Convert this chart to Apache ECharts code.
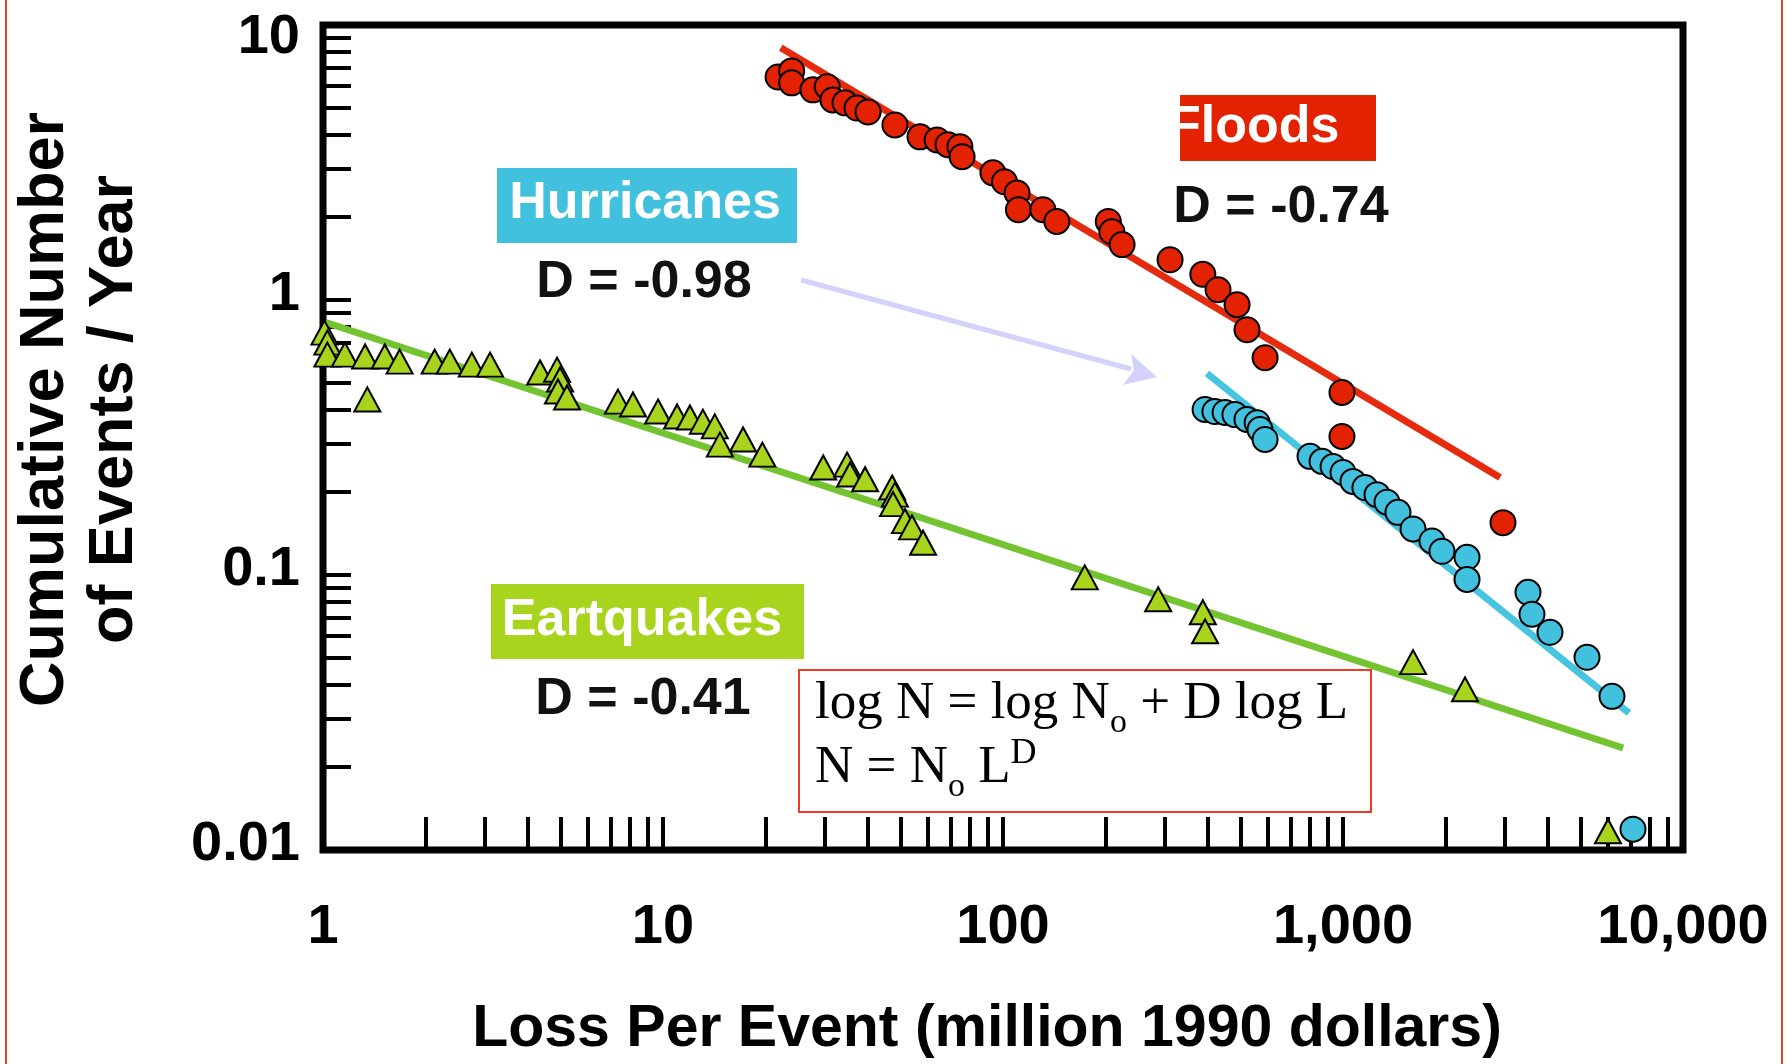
<!DOCTYPE html>
<html>
<head>
<meta charset="utf-8">
<script src="https://cdn.jsdelivr.net/npm/echarts@6/dist/echarts.min.js"></script>
<style>
  html, body { margin: 0; padding: 0; background: #ffffff; }
  #chart { width: 1792px; height: 1064px; }
</style>
</head>
<body>
<div id="chart"></div>
<script>
// ---------- data ----------
const floodsLoss = [21.8,23.9,23.9,27.6,30.4,31.6,34.3,37.2,40.1,48.1,57.0,64.0,68.9,74.7,75.8,93.4,101,110,111,131,144,204,209,224,310,387,429,488,522,590,993,993,2955];
const floodsRate = [6.47,6.81,6.16,5.81,5.96,5.34,5.21,4.99,4.83,4.33,3.92,3.82,3.67,3.61,3.32,2.90,2.69,2.45,2.13,2.13,1.93,1.93,1.77,1.59,1.40,1.24,1.09,0.962,0.780,0.617,0.461,0.319,0.155];

const hurrLoss = [393,420,450,481,522,559,570,590,800,868,935,1000,1070,1160,1259,1347,1451,1607,1827,1955,2316,2316,3500,3596,4062,5220,6182,7127];
const hurrRate = [0.400,0.393,0.390,0.383,0.368,0.358,0.338,0.311,0.270,0.259,0.248,0.236,0.219,0.208,0.196,0.184,0.169,0.147,0.133,0.122,0.116,0.0964,0.0865,0.0720,0.0619,0.0502,0.0362,0.0119];

const quakeLoss = [1.01,1.03,1.03,1.16,1.33,1.52,1.68,2.13,2.36,2.74,3.10,1.35,4.35,4.88,4.98,4.91,5.22,7.37,8.16,9.67,11.0,12.0,13.1,14.2,14.7,17.2,19.6,29.6,34.8,35.5,39.3,47.2,48.1,47.5,51.5,54.0,58.2,174,286,387,393,1607,2285,6017];
const quakeRate = [0.761,0.700,0.633,0.633,0.623,0.623,0.597,0.597,0.597,0.582,0.582,0.435,0.545,0.558,0.514,0.465,0.442,0.427,0.417,0.393,0.377,0.374,0.361,0.347,0.298,0.311,0.274,0.246,0.252,0.232,0.223,0.208,0.196,0.181,0.157,0.149,0.131,0.098,0.0816,0.0732,0.0624,0.0482,0.0384,0.0117];

// fitted power-law lines (end points)
const floodsFitLoss = [22.2, 2897];
const floodsFitRate = [8.26, 0.226];
const hurrFitLoss = [398, 6937];
const hurrFitRate = [0.541, 0.0315];
const quakeFitLoss = [1.02, 6667];
const quakeFitRate = [0.828, 0.0235];

// tick labels
const xLabelValues = [1, 10, 100, 1000, 10000];
const xTickLabels = ['1', '10', '100', '1,000', '10,000'];
const yLabelValues = [0.01, 0.1, 1, 10];
const yTickLabels = ['0.01', '0.1', '1', '10'];
const minorSteps = [1, 2, 3, 4, 5, 6, 7, 8, 9];
const xDecades = [1, 10, 100, 1000];
const yDecades = [0.01, 0.1, 1];

const seriesNames = ['Floods', 'Hurricanes', 'Eartquakes'];
const slopeTexts = ['D = -0.74', 'D = -0.98', 'D = -0.41'];

// ---------- helpers ----------
function zip(a, b) { return a.map((v, i) => [v, b[i]]); }
function buildTicks(decades, top) {
  const t = [];
  decades.forEach(d => minorSteps.forEach(m => t.push(+(d * m).toPrecision(6))));
  t.push(top);
  return t;
}
function findLabel(v, values, labels) {
  const i = values.findIndex(c => Math.abs(Math.log10(v) - Math.log10(c)) < 0.01);
  return i >= 0 ? labels[i] : '';
}

const RED = '#e22200', CYAN = '#41c1dd', GREEN = '#a8d41e';
const SANS = '"Liberation Sans", Arial, Helvetica, sans-serif';
const SERIF = '"Liberation Serif", "Times New Roman", serif';

const chart = echarts.init(document.getElementById('chart'), null, { renderer: 'canvas' });

const labelFont = { fontFamily: SANS, fontSize: 56, fontWeight: 'bold', color: '#000' };

const option = {
  backgroundColor: '#ffffff',
  animation: false,
  grid: {
    left: 323, top: 25, width: 1360, height: 826,
    show: true, borderColor: '#000', borderWidth: 7, backgroundColor: 'transparent'
  },
  xAxis: {
    type: 'log', logBase: 10, min: 1, max: 10000,
    name: 'Loss Per Event (million 1990 dollars)',
    nameLocation: 'middle', nameGap: 150,
    nameTextStyle: { fontFamily: SANS, fontSize: 59, fontWeight: 'bold', color: '#000', padding: [0, 32, 0, 0] },
    axisLine: { show: false },
    splitLine: { show: false },
    axisTick: { show: true, inside: true, length: 33, customValues: buildTicks(xDecades, 10000),
      lineStyle: { color: '#000', width: 4 } },
    axisLabel: Object.assign({ margin: 50, customValues: xLabelValues,
      formatter: v => findLabel(v, xLabelValues, xTickLabels) }, labelFont)
  },
  yAxis: {
    type: 'log', logBase: 10, min: 0.01, max: 10,
    name: 'Cumulative Number\nof Events / Year',
    nameLocation: 'middle', nameGap: 174, nameRotate: 90,
    nameTextStyle: { fontFamily: SANS, fontSize: 63, fontWeight: 'bold', color: '#000', lineHeight: 69, padding: [0, 0, 0, 56] },
    axisLine: { show: false },
    splitLine: { show: false },
    axisTick: { show: true, inside: true, length: 28, customValues: buildTicks(yDecades, 10),
      lineStyle: { color: '#000', width: 4 } },
    axisLabel: Object.assign({ margin: 23, customValues: yLabelValues,
      formatter: v => {
        const s = findLabel(v, yLabelValues, yTickLabels);
        return s === '10' ? '{t|' + s + '}' : '{n|' + s + '}';
      },
      rich: {
        t: Object.assign({ padding: [26, 0, 0, 0] }, labelFont),
        n: Object.assign({ padding: [0, 0, 10, 0] }, labelFont)
      } }, labelFont)
  },
  series: [
    { name: seriesNames[2] + ' fit', type: 'line', data: zip(quakeFitLoss, quakeFitRate), showSymbol: false, silent: true,
      lineStyle: { color: '#74c330', width: 7 }, z: 2 },
    { name: seriesNames[1] + ' fit', type: 'line', data: zip(hurrFitLoss, hurrFitRate), showSymbol: false, silent: true,
      lineStyle: { color: '#46c4e0', width: 7 }, z: 2 },
    { name: seriesNames[0] + ' fit', type: 'line', data: zip(floodsFitLoss, floodsFitRate), showSymbol: false, silent: true,
      lineStyle: { color: '#e52a0e', width: 7 }, z: 2 },
    { name: seriesNames[2], type: 'scatter', data: zip(quakeLoss, quakeRate), symbol: 'triangle', symbolSize: [26, 24], clip: false,
      itemStyle: { color: GREEN, borderColor: '#000', borderWidth: 2, opacity: 1 }, z: 3 },
    { name: seriesNames[1], type: 'scatter', data: zip(hurrLoss, hurrRate), symbol: 'circle', symbolSize: 25, clip: false,
      itemStyle: { color: CYAN, borderColor: '#000', borderWidth: 2, opacity: 1 }, z: 4 },
    { name: seriesNames[0], type: 'scatter', data: zip(floodsLoss, floodsRate), symbol: 'circle', symbolSize: 25, clip: false,
      itemStyle: { color: RED, borderColor: '#000', borderWidth: 2, opacity: 1 }, z: 5 }
  ],
  graphic: [
    // thin red outer border (left and right)
    { type: 'line', shape: { x1: 6, y1: 0, x2: 6, y2: 1064 }, style: { stroke: '#e8412c', lineWidth: 2 }, z: 100 },
    { type: 'line', shape: { x1: 1782, y1: 0, x2: 1782, y2: 1064 }, style: { stroke: '#e8412c', lineWidth: 2 }, z: 100 },

    // Floods label
    { type: 'rect', shape: { x: 1180, y: 95, width: 196, height: 66 }, style: { fill: RED }, z: 100 },
    { type: 'text', x: 1169, y: 128, z: 101,
      style: { text: seriesNames[0], fill: '#fff', fontFamily: SANS, fontSize: 52, fontWeight: 'bold',
        align: 'left', textAlign: 'left', verticalAlign: 'middle', textVerticalAlign: 'middle' } },
    { type: 'text', x: 1281, y: 208, z: 101,
      style: { text: slopeTexts[0], fill: '#111', fontFamily: SANS, fontSize: 52, fontWeight: 'bold',
        align: 'center', textAlign: 'center', verticalAlign: 'middle', textVerticalAlign: 'middle' } },

    // Hurricanes label
    { type: 'rect', shape: { x: 497, y: 168, width: 300, height: 75 }, style: { fill: CYAN }, z: 100 },
    { type: 'text', x: 645, y: 204, z: 101,
      style: { text: seriesNames[1], fill: '#fff', fontFamily: SANS, fontSize: 52, fontWeight: 'bold',
        align: 'center', textAlign: 'center', verticalAlign: 'middle', textVerticalAlign: 'middle' } },
    { type: 'text', x: 644, y: 283, z: 101,
      style: { text: slopeTexts[1], fill: '#111', fontFamily: SANS, fontSize: 52, fontWeight: 'bold',
        align: 'center', textAlign: 'center', verticalAlign: 'middle', textVerticalAlign: 'middle' } },

    // Earthquakes label
    { type: 'rect', shape: { x: 491, y: 584, width: 313, height: 75 }, style: { fill: GREEN }, z: 100 },
    { type: 'text', x: 642, y: 621, z: 101,
      style: { text: seriesNames[2], fill: '#fff', fontFamily: SANS, fontSize: 52, fontWeight: 'bold',
        align: 'center', textAlign: 'center', verticalAlign: 'middle', textVerticalAlign: 'middle' } },
    { type: 'text', x: 643, y: 700, z: 101,
      style: { text: slopeTexts[2], fill: '#111', fontFamily: SANS, fontSize: 52, fontWeight: 'bold',
        align: 'center', textAlign: 'center', verticalAlign: 'middle', textVerticalAlign: 'middle' } },

    // arrow pointing to hurricanes
    { type: 'line', shape: { x1: 801, y1: 280, x2: 1131, y2: 369 }, style: { stroke: '#d2d2fa', lineWidth: 5 }, z: 100 },
    { type: 'polygon', shape: { points: [[1157, 377], [1131, 354], [1134, 370], [1123, 385]] }, style: { fill: '#d2d2fa' }, z: 100 },

    // formula box
    { type: 'rect', shape: { x: 799, y: 670, width: 572, height: 142 }, style: { fill: '#fff', stroke: '#ee3b26', lineWidth: 2 }, z: 100 },
    { type: 'text', x: 815, y: 672, z: 101,
      style: {
        text: '{n|log N = log N}{s|o}{n| + D log L}\n{n|N = N}{s|o}{n| L}{p|D}',
        align: 'left', textAlign: 'left', verticalAlign: 'top', textVerticalAlign: 'top',
        fill: '#000', fontFamily: SERIF, fontSize: 53,
        rich: {
          n: { fontFamily: SERIF, fontSize: 53, lineHeight: 64, fill: '#000', color: '#000' },
          s: { fontFamily: SERIF, fontSize: 34, lineHeight: 20, verticalAlign: 'top', padding: [34, 0, 0, 0], fill: '#000', color: '#000' },
          p: { fontFamily: SERIF, fontSize: 36, lineHeight: 58, verticalAlign: 'top', fill: '#000', color: '#000' }
        }
      } }
  ]
};

chart.setOption(option);
</script>
</body>
</html>
